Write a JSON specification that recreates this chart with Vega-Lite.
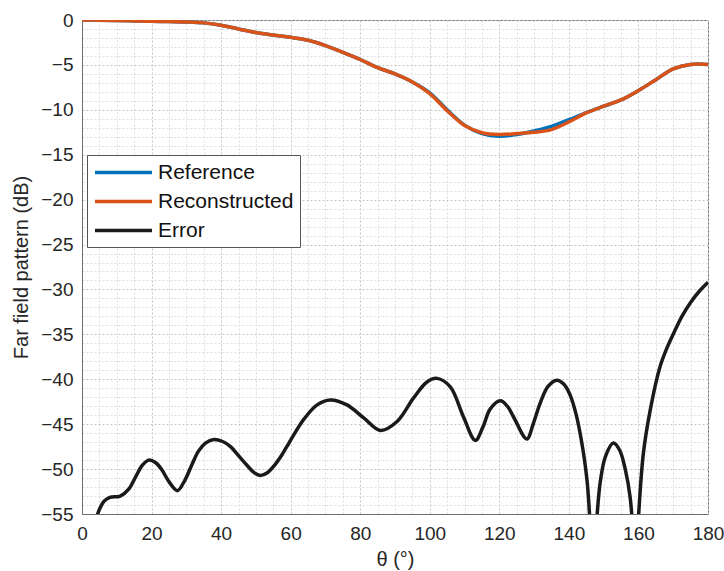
{
  "$schema": "https://vega.github.io/schema/vega-lite/v6.json",
  "autosize": {"type": "none"},
  "padding": {"left": 82, "top": 20, "right": 16, "bottom": 57},
  "width": 626,
  "height": 494,
  "background": "white",
  "config": {
    "font": "Liberation Sans",
    "view": {"stroke": "#6e6e6e", "strokeWidth": 1},
    "axis": {"labelColor": "#262626", "titleColor": "#262626", "labelFontSize": 19, "titleFontSize": 20, "titleFontWeight": "normal", "domainColor": "#6e6e6e"}
  },
  "datasets": {
    "curves": [
      {"theta": 0, "value": 0, "series": "Reference"},
      {"theta": 5, "value": -0.02, "series": "Reference"},
      {"theta": 10, "value": -0.05, "series": "Reference"},
      {"theta": 15, "value": -0.1, "series": "Reference"},
      {"theta": 20, "value": -0.14, "series": "Reference"},
      {"theta": 25, "value": -0.18, "series": "Reference"},
      {"theta": 30, "value": -0.22, "series": "Reference"},
      {"theta": 35, "value": -0.32, "series": "Reference"},
      {"theta": 40, "value": -0.58, "series": "Reference"},
      {"theta": 45, "value": -1.0, "series": "Reference"},
      {"theta": 50, "value": -1.4, "series": "Reference"},
      {"theta": 55, "value": -1.68, "series": "Reference"},
      {"theta": 60, "value": -1.92, "series": "Reference"},
      {"theta": 65, "value": -2.25, "series": "Reference"},
      {"theta": 70, "value": -2.85, "series": "Reference"},
      {"theta": 75, "value": -3.6, "series": "Reference"},
      {"theta": 80, "value": -4.4, "series": "Reference"},
      {"theta": 85, "value": -5.3, "series": "Reference"},
      {"theta": 90, "value": -6.0, "series": "Reference"},
      {"theta": 95, "value": -6.9, "series": "Reference"},
      {"theta": 100, "value": -8.1, "series": "Reference"},
      {"theta": 105, "value": -10.0, "series": "Reference"},
      {"theta": 110, "value": -11.7, "series": "Reference"},
      {"theta": 115, "value": -12.65, "series": "Reference"},
      {"theta": 120, "value": -12.95, "series": "Reference"},
      {"theta": 125, "value": -12.75, "series": "Reference"},
      {"theta": 130, "value": -12.35, "series": "Reference"},
      {"theta": 135, "value": -11.85, "series": "Reference"},
      {"theta": 140, "value": -11.1, "series": "Reference"},
      {"theta": 145, "value": -10.3, "series": "Reference"},
      {"theta": 150, "value": -9.6, "series": "Reference"},
      {"theta": 155, "value": -8.9, "series": "Reference"},
      {"theta": 160, "value": -7.85, "series": "Reference"},
      {"theta": 165, "value": -6.65, "series": "Reference"},
      {"theta": 170, "value": -5.45, "series": "Reference"},
      {"theta": 175, "value": -4.95, "series": "Reference"},
      {"theta": 180, "value": -4.95, "series": "Reference"},
      {"theta": 0, "value": 0, "series": "Reconstructed"},
      {"theta": 5, "value": -0.02, "series": "Reconstructed"},
      {"theta": 10, "value": -0.05, "series": "Reconstructed"},
      {"theta": 15, "value": -0.1, "series": "Reconstructed"},
      {"theta": 20, "value": -0.14, "series": "Reconstructed"},
      {"theta": 25, "value": -0.18, "series": "Reconstructed"},
      {"theta": 30, "value": -0.22, "series": "Reconstructed"},
      {"theta": 35, "value": -0.32, "series": "Reconstructed"},
      {"theta": 40, "value": -0.58, "series": "Reconstructed"},
      {"theta": 45, "value": -1.0, "series": "Reconstructed"},
      {"theta": 50, "value": -1.4, "series": "Reconstructed"},
      {"theta": 55, "value": -1.68, "series": "Reconstructed"},
      {"theta": 60, "value": -1.92, "series": "Reconstructed"},
      {"theta": 65, "value": -2.25, "series": "Reconstructed"},
      {"theta": 70, "value": -2.85, "series": "Reconstructed"},
      {"theta": 75, "value": -3.6, "series": "Reconstructed"},
      {"theta": 80, "value": -4.4, "series": "Reconstructed"},
      {"theta": 85, "value": -5.3, "series": "Reconstructed"},
      {"theta": 90, "value": -6.0, "series": "Reconstructed"},
      {"theta": 95, "value": -6.9, "series": "Reconstructed"},
      {"theta": 100, "value": -8.2, "series": "Reconstructed"},
      {"theta": 105, "value": -10.1, "series": "Reconstructed"},
      {"theta": 110, "value": -11.75, "series": "Reconstructed"},
      {"theta": 115, "value": -12.55, "series": "Reconstructed"},
      {"theta": 120, "value": -12.75, "series": "Reconstructed"},
      {"theta": 125, "value": -12.65, "series": "Reconstructed"},
      {"theta": 130, "value": -12.5, "series": "Reconstructed"},
      {"theta": 135, "value": -12.2, "series": "Reconstructed"},
      {"theta": 140, "value": -11.35, "series": "Reconstructed"},
      {"theta": 145, "value": -10.35, "series": "Reconstructed"},
      {"theta": 150, "value": -9.6, "series": "Reconstructed"},
      {"theta": 155, "value": -8.9, "series": "Reconstructed"},
      {"theta": 160, "value": -7.85, "series": "Reconstructed"},
      {"theta": 165, "value": -6.65, "series": "Reconstructed"},
      {"theta": 170, "value": -5.45, "series": "Reconstructed"},
      {"theta": 175, "value": -4.95, "series": "Reconstructed"},
      {"theta": 180, "value": -4.95, "series": "Reconstructed"},
      {"theta": 1, "value": -66, "series": "Error"},
      {"theta": 3, "value": -57.5, "series": "Error"},
      {"theta": 4.5, "value": -55.0, "series": "Error"},
      {"theta": 6.3, "value": -53.6, "series": "Error"},
      {"theta": 8, "value": -53.15, "series": "Error"},
      {"theta": 11, "value": -53.0, "series": "Error"},
      {"theta": 13.5, "value": -52.2, "series": "Error"},
      {"theta": 15.5, "value": -50.8, "series": "Error"},
      {"theta": 17.3, "value": -49.6, "series": "Error"},
      {"theta": 19.2, "value": -49.0, "series": "Error"},
      {"theta": 21.2, "value": -49.3, "series": "Error"},
      {"theta": 23, "value": -50.1, "series": "Error"},
      {"theta": 25, "value": -51.4, "series": "Error"},
      {"theta": 27.4, "value": -52.4, "series": "Error"},
      {"theta": 29.5, "value": -51.3, "series": "Error"},
      {"theta": 31.5, "value": -49.6, "series": "Error"},
      {"theta": 33.5, "value": -48.0, "series": "Error"},
      {"theta": 35.5, "value": -47.1, "series": "Error"},
      {"theta": 37.9, "value": -46.7, "series": "Error"},
      {"theta": 40.3, "value": -46.9, "series": "Error"},
      {"theta": 42.7, "value": -47.5, "series": "Error"},
      {"theta": 45, "value": -48.5, "series": "Error"},
      {"theta": 47.5, "value": -49.6, "series": "Error"},
      {"theta": 49.5, "value": -50.4, "series": "Error"},
      {"theta": 51.3, "value": -50.7, "series": "Error"},
      {"theta": 53.3, "value": -50.4, "series": "Error"},
      {"theta": 55.5, "value": -49.5, "series": "Error"},
      {"theta": 57.5, "value": -48.4, "series": "Error"},
      {"theta": 59.5, "value": -47.1, "series": "Error"},
      {"theta": 61.5, "value": -45.8, "series": "Error"},
      {"theta": 63.7, "value": -44.5, "series": "Error"},
      {"theta": 67.6, "value": -42.85, "series": "Error"},
      {"theta": 71.4, "value": -42.3, "series": "Error"},
      {"theta": 76.2, "value": -42.85, "series": "Error"},
      {"theta": 81, "value": -44.3, "series": "Error"},
      {"theta": 85.8, "value": -45.7, "series": "Error"},
      {"theta": 90.6, "value": -44.7, "series": "Error"},
      {"theta": 95.3, "value": -42.1, "series": "Error"},
      {"theta": 99.2, "value": -40.3, "series": "Error"},
      {"theta": 102.1, "value": -39.9, "series": "Error"},
      {"theta": 105.9, "value": -40.85, "series": "Error"},
      {"theta": 109.7, "value": -44.2, "series": "Error"},
      {"theta": 113.1, "value": -46.8, "series": "Error"},
      {"theta": 115.3, "value": -45.3, "series": "Error"},
      {"theta": 117.4, "value": -43.3, "series": "Error"},
      {"theta": 120.3, "value": -42.4, "series": "Error"},
      {"theta": 122.3, "value": -43.0, "series": "Error"},
      {"theta": 124.1, "value": -44.2, "series": "Error"},
      {"theta": 127.9, "value": -46.65, "series": "Error"},
      {"theta": 129.8, "value": -44.9, "series": "Error"},
      {"theta": 131.8, "value": -42.6, "series": "Error"},
      {"theta": 134, "value": -40.8, "series": "Error"},
      {"theta": 136.5, "value": -40.1, "series": "Error"},
      {"theta": 138.7, "value": -40.6, "series": "Error"},
      {"theta": 140.4, "value": -41.8, "series": "Error"},
      {"theta": 142, "value": -43.8, "series": "Error"},
      {"theta": 143.5, "value": -46.6, "series": "Error"},
      {"theta": 145.2, "value": -51.2, "series": "Error"},
      {"theta": 146.3, "value": -57.5, "series": "Error"},
      {"theta": 147, "value": -63, "series": "Error"},
      {"theta": 147.7, "value": -57.5, "series": "Error"},
      {"theta": 149, "value": -51.5, "series": "Error"},
      {"theta": 150.5, "value": -48.6, "series": "Error"},
      {"theta": 152.8, "value": -47.1, "series": "Error"},
      {"theta": 154.6, "value": -47.9, "series": "Error"},
      {"theta": 156.2, "value": -50.0, "series": "Error"},
      {"theta": 157.6, "value": -53.1, "series": "Error"},
      {"theta": 158.5, "value": -57.5, "series": "Error"},
      {"theta": 159.1, "value": -63, "series": "Error"},
      {"theta": 159.7, "value": -57.5, "series": "Error"},
      {"theta": 161.4, "value": -48.3, "series": "Error"},
      {"theta": 163.4, "value": -43.4, "series": "Error"},
      {"theta": 166.2, "value": -38.6, "series": "Error"},
      {"theta": 168.2, "value": -36.5, "series": "Error"},
      {"theta": 170.1, "value": -34.9, "series": "Error"},
      {"theta": 172.5, "value": -33.0, "series": "Error"},
      {"theta": 174.9, "value": -31.5, "series": "Error"},
      {"theta": 177.5, "value": -30.2, "series": "Error"},
      {"theta": 180, "value": -29.2, "series": "Error"}
    ]
  },
  "data": {"name": "curves"},
  "encoding": {
    "x": {
      "field": "theta", "type": "quantitative",
      "scale": {"domain": [0, 180], "nice": false},
      "axis": {
        "title": "θ (°)",
        "values": [0,5,10,15,20,25,30,35,40,45,50,55,60,65,70,75,80,85,90,95,100,105,110,115,120,125,130,135,140,145,150,155,160,165,170,175,180],
        "labelExpr": "datum.value % 20 === 0 ? datum.label : ''",
        "ticks": false,
        "labelPadding": 10,
        "titlePadding": 6,
        "grid": true,
        "gridDash": [2, 2],
        "gridColor": {"condition": {"test": "datum.value % 20 === 0", "value": "#c4c4c4"}, "value": "#dcdcdc"},
        "labelFlush": false
      }
    },
    "y": {
      "field": "value", "type": "quantitative",
      "scale": {"domain": [-55, 0], "nice": false},
      "axis": {
        "title": "Far field pattern (dB)",
        "values": [0,-1,-2,-3,-4,-5,-6,-7,-8,-9,-10,-11,-12,-13,-14,-15,-16,-17,-18,-19,-20,-21,-22,-23,-24,-25,-26,-27,-28,-29,-30,-31,-32,-33,-34,-35,-36,-37,-38,-39,-40,-41,-42,-43,-44,-45,-46,-47,-48,-49,-50,-51,-52,-53,-54,-55],
        "labelExpr": "datum.value % 5 === 0 ? datum.label : ''",
        "ticks": false,
        "labelPadding": 9,
        "titlePadding": 9,
        "grid": true,
        "gridDash": [2, 2],
        "gridColor": {"condition": {"test": "datum.value % 5 === 0", "value": "#c4c4c4"}, "value": "#dcdcdc"},
        "labelFlush": false
      }
    },
    "color": {
      "field": "series", "type": "nominal",
      "scale": {"domain": ["Reference", "Reconstructed", "Error"], "range": ["#0072BD", "#D95319", "#1a1a1a"]},
      "legend": {
        "title": null,
        "orient": "none",
        "legendX": 5,
        "legendY": 135,
        "symbolType": "M-1,0H5",
        "symbolSize": 361,
        "symbolStrokeWidth": 3.5,
        "symbolOffset": 0,
        "labelOffset": 42,
        "labelFontSize": 21,
        "labelColor": "#111111",
        "rowPadding": 7,
        "padding": 6,
        "strokeColor": "#555555",
        "fillColor": "white",
        "labelLimit": 300
      }
    }
  },
  "layer": [
    {"transform": [{"filter": "datum.series === 'Reference'"}], "mark": {"type": "line", "interpolate": "catmull-rom", "strokeWidth": 3.5, "clip": true}},
    {"transform": [{"filter": "datum.series === 'Reconstructed'"}], "mark": {"type": "line", "interpolate": "catmull-rom", "strokeWidth": 3.5, "clip": true}},
    {"transform": [{"filter": "datum.series === 'Error'"}], "mark": {"type": "line", "interpolate": "catmull-rom", "strokeWidth": 3.5, "clip": true}}
  ]
}
